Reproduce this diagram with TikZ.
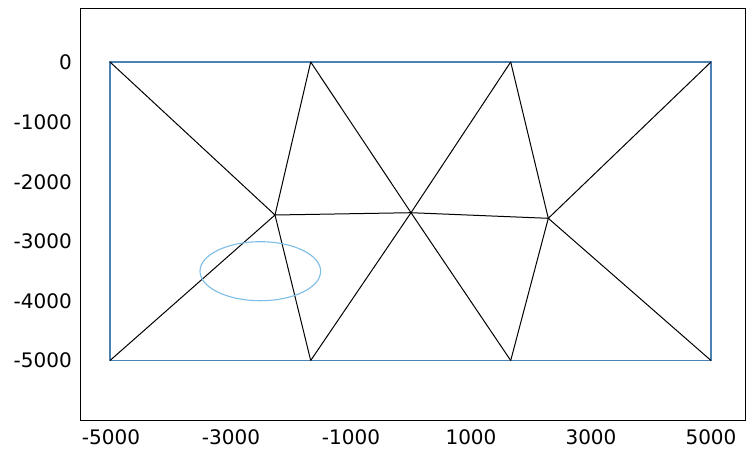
\documentclass[tikz,border=0pt]{standalone}
\usepackage{fontspec}
\setmainfont{DejaVu Sans}
\definecolor{rectblue}{RGB}{75,130,180}
\definecolor{ellblue}{RGB}{125,190,230}
\begin{document}
\begin{tikzpicture}[x=1pt,y=-1pt,
  meshline/.style={black,line width=1pt},
  boundary/.style={rectblue,line width=1.5pt},
  frame/.style={black,line width=1pt},
  ticklab/.style={font=\fontsize{20}{22}\selectfont,inner sep=0pt},
  ylab/.style={ticklab,anchor=east},
  xlab/.style={ticklab,anchor=center}]
\useasboundingbox (0,0) rectangle (747,451);
\fill[white] (0,0) rectangle (747,451);
% frame
\draw[frame] (80,8) rectangle (745,420);
% mesh vertices
\coordinate (TL) at (110,62);
\coordinate (T1) at (310.7,62);
\coordinate (T2) at (510.7,62);
\coordinate (TR) at (711,62);
\coordinate (BL) at (110,360.5);
\coordinate (B1) at (310.7,360.5);
\coordinate (B2) at (510.7,360.5);
\coordinate (BR) at (711,360.5);
\coordinate (A) at (275,215);
\coordinate (M) at (411,212.7);
\coordinate (C) at (548.3,218.3);
% boundary
\draw[boundary] (TL) -- (TR) -- (BR) -- (BL) -- cycle;
% mesh edges
\draw[meshline] (TL) -- (A) -- (BL);
\draw[meshline] (T1) -- (A) -- (B1);
\draw[meshline] (A) -- (M) -- (C);
\draw[meshline] (T1) -- (M) -- (T2);
\draw[meshline] (B1) -- (M) -- (B2);
\draw[meshline] (T2) -- (C) -- (B2);
\draw[meshline] (TR) -- (C) -- (BR);
% ellipse
\draw[ellblue,line width=1.1pt] (260.3,271.2) ellipse [x radius=60.3, y radius=29.5];
% y labels
\node[ylab] (y0) at (72,62) {0};
\node[ylab] (y1) at (72,122) {-1000};
\node[ylab] (y2) at (72,182) {-2000};
\node[ylab] (y3) at (72,241) {-3000};
\node[ylab] (y4) at (72,301) {-4000};
\node[ylab] (y5) at (72,360) {-5000};
% x labels
\node[xlab] (x0) at (111,437) {-5000};
\node[xlab] (x1) at (231,437) {-3000};
\node[xlab] (x2) at (351,437) {-1000};
\node[xlab] (x3) at (471,437) {1000};
\node[xlab] (x4) at (591,437) {3000};
\node[xlab] (x5) at (711,437) {5000};
\end{tikzpicture}
\end{document}
